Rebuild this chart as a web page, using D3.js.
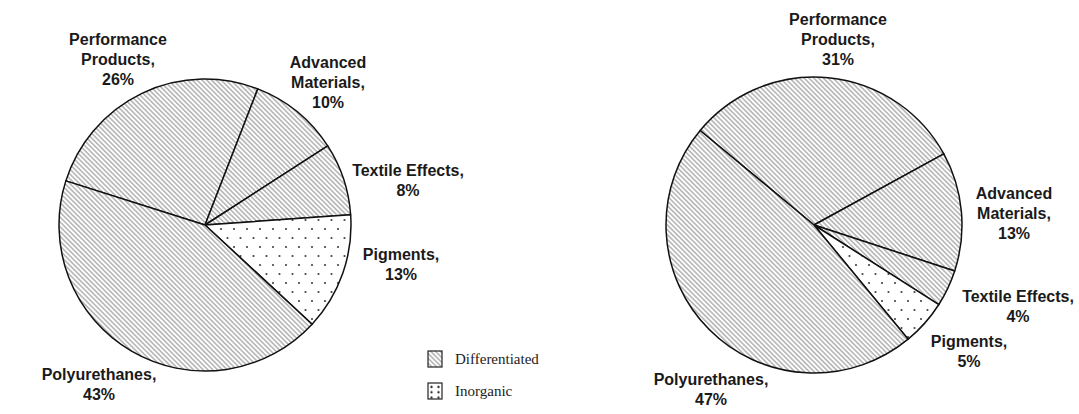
<!DOCTYPE html>
<html>
<head>
<meta charset="utf-8">
<script src="https://cdn.jsdelivr.net/npm/d3@7"></script>
<style>
  html, body { margin: 0; padding: 0; background: #fff; }
  svg { display: block; }
</style>
</head>
<body>
<div id="chart"></div>
<script>
const categories = ["Performance Products", "Advanced Materials", "Textile Effects", "Pigments", "Polyurethanes"];
const labelLines = [["Performance", "Products,"], ["Advanced", "Materials,"], ["Textile Effects,"], ["Pigments,"], ["Polyurethanes,"]];
const groups = ["Differentiated", "Differentiated", "Differentiated", "Inorganic", "Differentiated"];
const leftValues = [26, 10, 8, 13, 43];
const rightValues = [31, 13, 4, 5, 47];
const legendLabels = ["Differentiated", "Inorganic"];

const width = 1079;
const height = 414;

const svg = d3
  .select("#chart")
  .append("svg")
  .attr("width", width)
  .attr("height", height);

svg.append("rect").attr("width", width).attr("height", height).attr("fill", "#fff");

const defs = svg.append("defs");

const hatch = defs
  .append("pattern")
  .attr("id", "hatch")
  .attr("patternUnits", "userSpaceOnUse")
  .attr("width", 3.4)
  .attr("height", 3.4)
  .attr("patternTransform", "rotate(-45)");
hatch.append("rect").attr("width", 3.4).attr("height", 3.4).attr("fill", "#fff");
hatch
  .append("line")
  .attr("x1", 1.7)
  .attr("x2", 1.7)
  .attr("y1", 0)
  .attr("y2", 3.4)
  .attr("stroke", "#8a8a8a")
  .attr("stroke-width", 1);

const dots = defs
  .append("pattern")
  .attr("id", "dots")
  .attr("patternUnits", "userSpaceOnUse")
  .attr("width", 13)
  .attr("height", 18);
dots.append("rect").attr("width", 13).attr("height", 18).attr("fill", "#fff");
dots.append("circle").attr("cx", 3).attr("cy", 4).attr("r", 1.1).attr("fill", "#444");
dots.append("circle").attr("cx", 9.5).attr("cy", 13).attr("r", 1.1).attr("fill", "#444");

// the legend swatch shows the dots at a tighter pitch
const dotsKey = defs
  .append("pattern")
  .attr("id", "dotsKey")
  .attr("patternUnits", "userSpaceOnUse")
  .attr("x", 428)
  .attr("y", 383)
  .attr("width", 7)
  .attr("height", 5.3);
dotsKey.append("rect").attr("width", 7).attr("height", 5.3).attr("fill", "#fff");
dotsKey.append("circle").attr("cx", 2.5).attr("cy", 2.6).attr("r", 1.2).attr("fill", "#333");

const fillFor = (group) => (group === "Inorganic" ? "url(#dots)" : "url(#hatch)");
const keyFillFor = (group) => (group === "Inorganic" ? "url(#dotsKey)" : "url(#hatch)");

// chart placement and label anchors (cx, baseline of first line)
const charts = [
  {
    values: leftValues,
    cx: 205,
    cy: 225,
    r: 146,
    start: -72.4,
    labels: [[118, 45], [328, 68], [408, 176], [401, 260], [99, 380]],
  },
  {
    values: rightValues,
    cx: 814,
    cy: 225,
    r: 148,
    start: -50.3,
    labels: [[838, 25], [1014, 199], [1018, 302], [969, 347], [711, 385]],
  },
];

const lineHeight = 20;

charts.forEach((chart) => {
  const a0 = (chart.start * Math.PI) / 180;
  const pie = d3
    .pie()
    .sort(null)
    .value((d) => d.value)
    .startAngle(a0)
    .endAngle(a0 + 2 * Math.PI);

  const data = categories.map((c, i) => ({
    name: c,
    value: chart.values[i],
    group: groups[i],
    lines: labelLines[i],
  }));

  const arc = d3.arc().innerRadius(0).outerRadius(chart.r);

  const g = svg.append("g").attr("transform", `translate(${chart.cx},${chart.cy})`);

  g.selectAll("path.slice")
    .data(pie(data))
    .enter()
    .append("path")
    .attr("class", "slice")
    .attr("d", arc)
    .attr("fill", (d) => fillFor(d.data.group))
    .attr("stroke", "#111")
    .attr("stroke-width", 1.5)
    .attr("stroke-linejoin", "round");

  const label = svg
    .selectAll(null)
    .data(data)
    .enter()
    .append("text")
    .attr("text-anchor", "middle")
    .attr("font-family", "'Liberation Sans', Arial, sans-serif")
    .attr("font-weight", "bold")
    .attr("font-size", 16)
    .attr("fill", "#1a1a1a");

  label.each(function (d, i) {
    const self = d3.select(this);
    const [x, y] = chart.labels[i];
    const lines = d.lines.concat([`${d.value}%`]);
    lines.forEach((line, k) => {
      self
        .append("tspan")
        .attr("x", x)
        .attr("y", y + k * lineHeight)
        .text(line);
    });
  });
});

// legend
const legend = svg.append("g").attr("transform", "translate(428,351)");
legendLabels.forEach((name, i) => {
  const row = legend.append("g").attr("transform", `translate(0,${i * 32})`);
  row
    .append("rect")
    .attr("width", 14)
    .attr("height", 16)
    .attr("fill", keyFillFor(name))
    .attr("stroke", "#222")
    .attr("stroke-width", 1.2);
  row
    .append("text")
    .attr("x", 27)
    .attr("y", 13)
    .attr("font-family", "'Liberation Serif', 'Times New Roman', serif")
    .attr("font-size", 15)
    .attr("fill", "#222")
    .text(name);
});
</script>
</body>
</html>
